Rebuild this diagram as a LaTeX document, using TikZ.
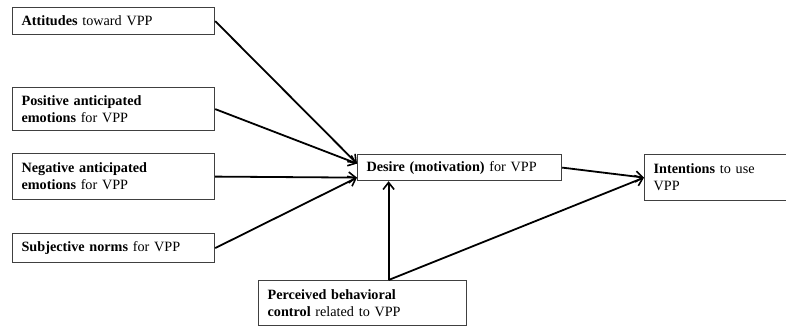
\documentclass[tikz,border=0pt]{standalone}
\usepackage{fontspec}
\setmainfont{Liberation Serif}
\usetikzlibrary{arrows.meta,positioning,calc}
\tikzset{every picture/.style={line width=0.75pt}}
\tikzset{
  box/.style={draw=black!75, line width=1.2pt, fill=white, anchor=north west,
    align=left, inner xsep=9pt, inner ysep=3pt,
    font=\fontsize{14.2}{17}\selectfont},
  arrow/.style={line width=1.8pt, -{Straight Barb[length=7pt,width=11pt,line width=1.6pt]}}
}

\begin{document}
\begin{tikzpicture}[x=1pt,y=-1pt]
    % frame
    \useasboundingbox (0,0) rectangle (786,329);
    
    % boxes on the left
    \node[box, text width=184pt, minimum height=27pt] (att) at (12,7)
        {\textbf{Attitudes} toward VPP};
    \node[box, text width=184pt, minimum height=43pt] (pos) at (12,87)
        {\textbf{Positive anticipated}\\\textbf{emotions} for VPP};
    \node[box, text width=184pt, minimum height=46pt] (neg) at (12,153)
        {\textbf{Negative anticipated}\\\textbf{emotions} for VPP};
    \node[box, text width=184pt, minimum height=29pt] (sub) at (12,233)
        {\textbf{Subjective norms} for VPP};
    
    % middle and right boxes
    \node[box, text width=186pt, minimum height=26pt] (des) at (357,154)
        {\textbf{Desire (motivation)} for VPP};
    \node[box, text width=160pt, minimum height=46pt] (int) at (644,154)
        {\textbf{Intentions} to use\\VPP};
    \node[box, text width=190pt, minimum height=45pt] (per) at (258,280)
        {\textbf{Perceived behavioral}\\\textbf{control} related to VPP};
    
    % arrows into desire
    \coordinate (inhi) at ([yshift=4pt]des.west);
    \coordinate (inlo) at ([yshift=-10pt]des.west);
    \draw[arrow] (att.east) -- (inhi);
    \draw[arrow] (pos.east) -- (inhi);
    \draw[arrow] (neg.east) -- (inlo);
    \draw[arrow] (sub.east) -- (inlo);
    
    % arrows into intentions
    \coordinate (pc) at ([xshift=26pt]per.north);
    \draw[arrow] (des.east) -- (int.west);
    \draw[arrow] (pc) -- (pc |- des.south);
    \draw[arrow] (pc) -- (int.west);
\end{tikzpicture}
\end{document}
